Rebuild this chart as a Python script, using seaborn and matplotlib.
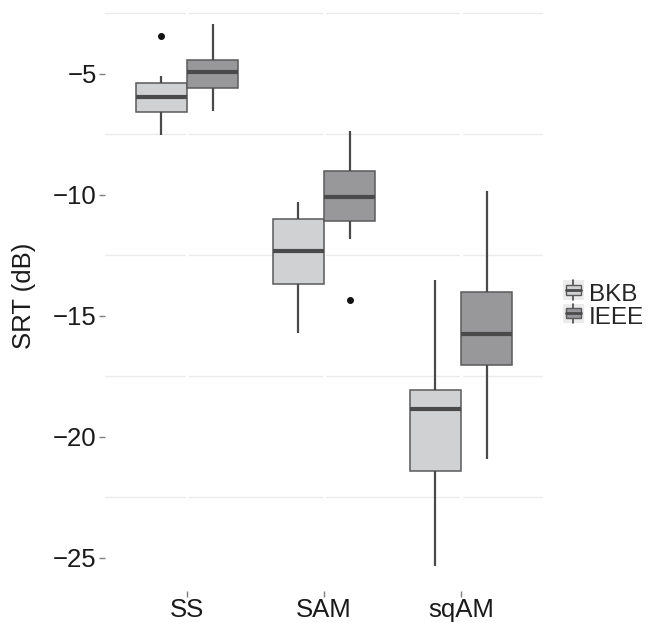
import numpy as np
import pandas as pd
import matplotlib
matplotlib.use("Agg")
import matplotlib.pyplot as plt
import seaborn as sns
from matplotlib.patches import Rectangle
from matplotlib.lines import Line2D
from matplotlib.legend_handler import HandlerBase

conditions = ["SS", "SAM", "sqAM"]
materials = ["BKB", "IEEE"]

# lower whisker, q1, median, q3, upper whisker
bkb_stats = [[-7.51, -6.57, -5.96, -5.38, -5.08],
             [-15.70, -13.67, -12.33, -10.99, -10.30],
             [-25.32, -21.43, -18.84, -18.08, -13.52]]
ieee_stats = [[-6.52, -5.59, -4.93, -4.42, -2.93],
              [-11.84, -11.10, -10.10, -9.00, -7.36],
              [-20.90, -17.05, -15.75, -14.00, -9.84]]
bkb_outliers = [[-3.42], [], []]
ieee_outliers = [[], [-14.35], []]

fills = {"BKB": "#d0d1d3", "IEEE": "#97989c"}
edge = "#5a5a5a"


def sample(s, outs):
    # 9 values whose quartiles (linear interpolation) hit the read summary
    wl, q1, med, q3, wh = s
    if not outs:
        return [wl, q1, q1, med, med, med, q3, q3, wh]
    o = outs[0]
    if o < wl:
        return [o, wl, q1, med, med, q3, q3, wh, wh]
    return [wl, wl, q1, med, med, q3, q3, wh, o]


rows = []
for mat, stats, outs in [("BKB", bkb_stats, bkb_outliers), ("IEEE", ieee_stats, ieee_outliers)]:
    for cond, s, o in zip(conditions, stats, outs):
        for v in sample(s, o):
            rows.append({"condition": cond, "material": mat, "SRT": v})
df = pd.DataFrame(rows)

sns.set_style("white")
plt.rcParams["font.family"] = ["Liberation Sans", "DejaVu Sans"]

fig = plt.figure(figsize=(6.49, 6.23), dpi=100)
ax = fig.add_axes([105 / 649, 1 - 591 / 623, 438 / 649, 591 / 623])

# minor horizontal grid, white vertical major grid on top
for y in [-2.5, -7.5, -12.5, -17.5, -22.5]:
    ax.axhline(y, color="#ebebeb", lw=1.0, zorder=0)
for x in range(3):
    ax.axvline(x, color="white", lw=2.2, zorder=0.5)

sns.boxplot(data=df, x="condition", y="SRT", hue="material", order=conditions,
            hue_order=materials, palette=fills, width=0.75, gap=0, whis=1.5,
            linecolor=edge, linewidth=1.1, ax=ax,
            medianprops=dict(color="#4a4a4a", linewidth=3.0),
            whiskerprops=dict(color="#4a4a4a", linewidth=1.6),
            capprops=dict(linewidth=0),
            flierprops=dict(marker="o", markersize=4, markerfacecolor="#111111",
                            markeredgecolor="#111111"))

ax.set_xlim(-0.6, 2.6)
ax.set_ylim(-26.37, -1.95)
ax.set_yticks([-5, -10, -15, -20, -25])
ax.set_yticklabels(["\u22125", "\u221210", "\u221215", "\u221220", "\u221225"])
ax.tick_params(axis="both", labelsize=18.5, colors="#7f7f7f", length=4, width=1, pad=2,
               labelcolor="#1a1a1a", left=True, bottom=True)
ax.tick_params(axis="x", pad=1)
ax.set_xlabel("")
ax.set_ylabel("SRT (dB)", fontsize=18.5, color="#1a1a1a", labelpad=12)
for sp in ax.spines.values():
    sp.set_visible(False)


class BoxKey(HandlerBase):
    def create_artists(self, legend, orig, xd, yd, w, h, fontsize, trans):
        fc = orig.get_facecolor()
        bg = Rectangle((xd, yd), w, h, fc="#ebebeb", ec="none", transform=trans)
        box = Rectangle((xd + 0.12 * w, yd + 0.25 * h), 0.76 * w, 0.5 * h,
                        fc=fc, ec=edge, lw=1.0, transform=trans)
        med = Line2D([xd + 0.12 * w, xd + 0.88 * w], [yd + 0.5 * h] * 2,
                     color="#4a4a4a", lw=2, transform=trans)
        w1 = Line2D([xd + 0.5 * w] * 2, [yd, yd + 0.25 * h], color="#4a4a4a", lw=1.2,
                    transform=trans)
        w2 = Line2D([xd + 0.5 * w] * 2, [yd + 0.75 * h, yd + h], color="#4a4a4a", lw=1.2,
                    transform=trans)
        return [bg, w1, w2, box, med]


handles = [Rectangle((0, 0), 1, 1, fc=fills[m]) for m in materials]
ax.legend(handles, materials, handler_map={Rectangle: BoxKey()},
          loc="center left", bbox_to_anchor=(1.046, 0.482), frameon=False,
          fontsize=17.5, handlelength=0.85, handleheight=0.85, handletextpad=0.2,
          labelspacing=0.0, borderpad=0, borderaxespad=0)

fig.savefig("out.png", dpi=100)
